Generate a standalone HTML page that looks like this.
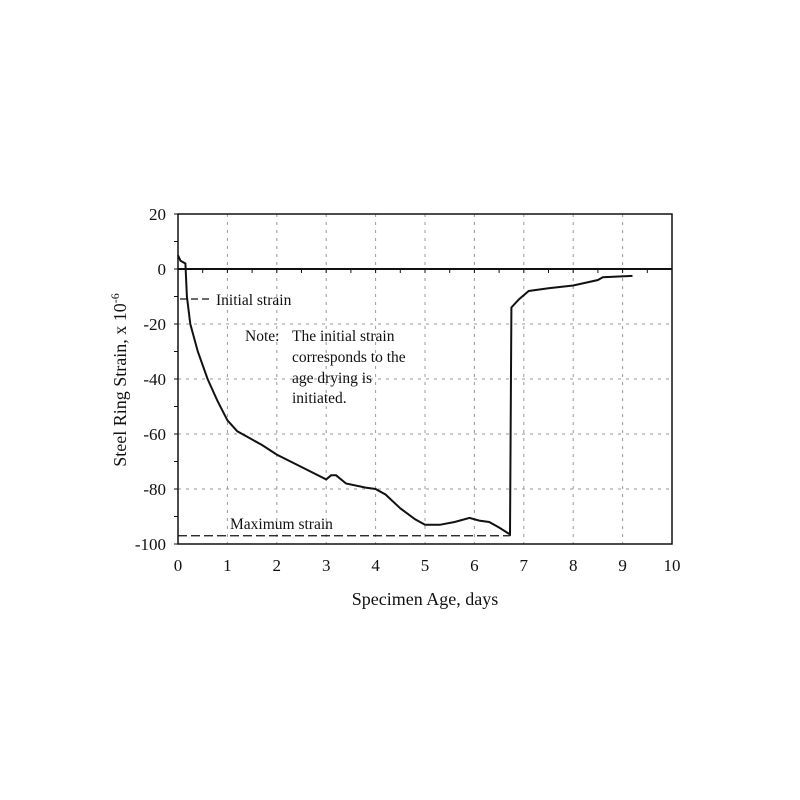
<!DOCTYPE html>
<html><head><meta charset="utf-8"><style>body{margin:0;background:#fff}svg{display:block}text{font-family:"Liberation Serif",serif;fill:#111}</style></head>
<body>
<svg id="chart" width="800" height="800" xmlns="http://www.w3.org/2000/svg">
<g id="grid"></g>
<g id="axes"></g>
<path id="series" fill="none" stroke="#111" stroke-width="2"/>
<line x1="180" y1="299" x2="210" y2="299" stroke="#111" stroke-width="1.2" stroke-dasharray="7,4"/>
<text x="216" y="305" font-size="15.5">Initial strain</text>
<text x="245" y="341" font-size="15.5">Note:</text>
<text x="292" y="341" font-size="15.5">The initial strain</text>
<text x="292" y="362" font-size="15.5">corresponds to the</text>
<text x="292" y="383" font-size="15.5">age drying is</text>
<text x="292" y="403" font-size="15.5">initiated.</text>
<line id="maxline" stroke="#111" stroke-width="1.2" stroke-dasharray="9,4"/>
<text x="230" y="529" font-size="15.5">Maximum strain</text>
<text x="425" y="605" font-size="18" text-anchor="middle">Specimen Age, days</text>
<text transform="translate(126,380) rotate(-90)" font-size="18" text-anchor="middle">Steel Ring Strain, x 10<tspan dy="-7" font-size="12">-6</tspan></text>
</svg>
<script>
const xTicks=[0,1,2,3,4,5,6,7,8,9,10];
const yTicks=[20,0,-20,-40,-60,-80,-100];
const days=[0,0.05,0.15,0.18,0.25,0.4,0.6,0.8,1.0,1.2,1.4,1.7,2,2.5,3,3.1,3.2,3.4,3.8,4.0,4.2,4.5,4.8,5.0,5.3,5.6,5.9,6.1,6.3,6.5,6.72,6.75,6.9,7.1,7.5,8,8.5,8.6,9.2];
const strain=[5,3,2,-10,-20,-30,-40,-48,-55,-59,-61,-64,-67.5,-72,-76.5,-75,-75,-78,-79.5,-80,-82,-87,-91,-93,-93,-92,-90.5,-91.5,-92,-94,-96.5,-14,-11,-8,-7,-6,-4,-3,-2.5];
const maxStrain=-97, maxDay=6.72;
const X=d=>178+d*49.4, Y=v=>269-v*2.75;
const ns='http://www.w3.org/2000/svg';
const grid=document.getElementById('grid'), axes=document.getElementById('axes');
function mk(p,tag,a){const e=document.createElementNS(ns,tag);for(const k in a)e.setAttribute(k,a[k]);p.appendChild(e);return e;}
xTicks.forEach(t=>{
 if(t>0&&t<10){const g=mk(grid,'line',{x1:X(t),x2:X(t),y1:Y(20),y2:Y(-100),stroke:'#999','stroke-dasharray':'3,5'});
 
 }
 const tx=mk(axes,'text',{x:X(t),y:571,'font-size':17,'text-anchor':'middle'});tx.textContent=t;
 
 
});
yTicks.forEach(t=>{
 if(t!==20&&t!==-100&&t!==0){const g=mk(grid,'line',{x1:X(0),x2:X(10),y1:Y(t),y2:Y(t),stroke:'#999','stroke-dasharray':'3,5'});
 
 }
 const tx=mk(axes,'text',{x:166,y:Y(t)+6,'font-size':17,'text-anchor':'end'});tx.textContent=t;
 
 
});
for(let v=20;v>=-100;v-=10){mk(axes,'line',{x1:X(0)-4,x2:X(0),y1:Y(v),y2:Y(v),stroke:'#111'});}
for(let d=0.5;d<10;d+=0.5){mk(axes,'line',{x1:X(d),x2:X(d),y1:Y(0),y2:Y(0)+4,stroke:'#111'});}
const fr=mk(axes,'rect',{x:X(0),y:Y(20),width:X(10)-X(0),height:Y(-100)-Y(20),fill:'none',stroke:'#111','stroke-width':1.5});


const z=mk(axes,'line',{x1:X(0),x2:X(10),y1:Y(0),y2:Y(0),stroke:'#111','stroke-width':2});


document.getElementById('series').setAttribute('d',days.map((d,i)=>(i?'L':'M')+X(d).toFixed(1)+','+Y(strain[i]).toFixed(1)).join(''));
const ml=document.getElementById('maxline');
ml.setAttribute('x1',X(0));ml.setAttribute('x2',X(maxDay));ml.setAttribute('y1',Y(maxStrain));ml.setAttribute('y2',Y(maxStrain));
</script>
</body></html>
